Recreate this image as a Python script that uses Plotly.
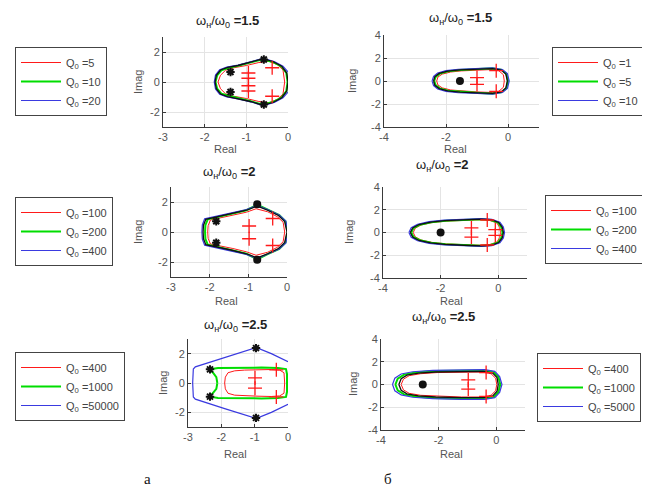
import plotly.graph_objects as go

# the page body adds an 8 px margin, so the figure is drawn 8 px in from the window corner
PAGE_OFF = 8
W, H = 650 - PAGE_OFF, 501 - PAGE_OFF

# ---------------- data ----------------
RATIOS = ["1.5", "1.5", "2", "2", "2.5", "2.5"]
Q_TL = ["5", "10", "20"]
Q_TR = ["1", "5", "10"]
Q_ML = ["100", "200", "400"]
Q_MR = ["100", "200", "400"]
Q_BL = ["400", "1000", "50000"]
Q_BR = ["400", "1000", "5000"]

TICKS_X_LEFT = [-3, -2, -1, 0]
TICKTEXT_X_LEFT = ["-3", "-2", "-1", "0"]
TICKS_Y_LEFT = [-2, 0, 2]
TICKTEXT_Y_LEFT = ["-2", "0", "2"]
TICKS_X_RIGHT = [-4, -2, 0]
TICKTEXT_X_RIGHT = ["-4", "-2", "0"]
TICKS_Y_RIGHT = [-4, -2, 0, 2, 4]
TICKTEXT_Y_RIGHT = ["-4", "-2", "0", "2", "4"]

# upper halves of loci (the lower half is the complex conjugate)
# --- top-left, wn/w0 = 1.5
TL_RED_X = [-1.68, -1.62, -1.5, -1.3, -1.0, -0.7, -0.45, -0.25, -0.12, -0.08]
TL_RED_Y = [0, 0.45, 0.78, 0.95, 1.1, 1.3, 1.38, 1.15, 0.8, 0]
TL_GRN_X = [-1.74, -1.7, -1.6, -1.42, -1.2, -0.9, -0.6, -0.35, -0.15, -0.04, -0.01]
TL_GRN_Y = [0, 0.45, 0.78, 0.95, 1.08, 1.28, 1.52, 1.32, 1.02, 0.6, 0]
TL_BLU_X = [-1.77, -1.74, -1.64, -1.47, -1.2, -0.9, -0.6, -0.33, -0.12, 0.02, 0.04]
TL_BLU_Y = [0, 0.46, 0.82, 1.0, 1.12, 1.32, 1.57, 1.37, 1.05, 0.62, 0]
TL_BLK_X = [-1.75, -1.72, -1.62, -1.45, -1.2, -0.9, -0.6, -0.35, -0.15, -0.03, 0.0]
TL_BLK_Y = [0, 0.45, 0.8, 0.98, 1.1, 1.3, 1.55, 1.35, 1.05, 0.6, 0]
TL_STAR_X = [-1.38, -1.38, -0.58, -0.58]
TL_STAR_Y = [0.67, -0.67, 1.5, -1.5]
TL_DOT_X = []
TL_DOT_Y = []
TL_PLUS_X = [-0.95, -0.95, -0.95, -0.95, -0.38, -0.38]
TL_PLUS_Y = [0.6, 0.25, -0.25, -0.6, 0.95, -0.95]

# --- top-right, wn/w0 = 1.5
TR_RED_X = [-2.3, -2.26, -2.12, -1.85, -1.5, -1.0, -0.5, -0.3, -0.15, -0.12]
TR_RED_Y = [0, 0.35, 0.6, 0.78, 0.88, 0.95, 1.0, 0.9, 0.55, 0]
TR_GRN_X = [-2.38, -2.33, -2.2, -1.93, -1.55, -1.0, -0.5, -0.2, -0.05, 0.0]
TR_GRN_Y = [0, 0.37, 0.64, 0.84, 0.95, 1.02, 1.1, 0.97, 0.62, 0]
TR_BLU_X = [-2.45, -2.4, -2.27, -2.0, -1.6, -1.0, -0.5, -0.18, -0.02, 0.04]
TR_BLU_Y = [0, 0.4, 0.7, 0.9, 1.02, 1.08, 1.14, 1.0, 0.64, 0]
TR_BLK_X = [-2.4, -2.36, -2.22, -1.95, -1.55, -1.0, -0.5, -0.22, -0.07, -0.02]
TR_BLK_Y = [0, 0.38, 0.66, 0.86, 0.97, 1.03, 1.08, 0.95, 0.6, 0]
TR_STAR_X = []
TR_STAR_Y = []
TR_DOT_X = [-1.55]
TR_DOT_Y = [0]
TR_PLUS_X = [-1.0, -1.0, -0.38, -0.38]
TR_PLUS_Y = [0.3, -0.3, 0.9, -0.9]

# --- middle-left, wn/w0 = 2
ML_RED_X = [-2.05, -2.04, -1.98, -1.75, -1.4, -1.05, -0.8, -0.5, -0.25, -0.1, -0.06]
ML_RED_Y = [0, 0.42, 0.8, 0.93, 1.1, 1.32, 1.55, 1.35, 1.02, 0.65, 0]
ML_GRN_X = [-2.12, -2.11, -2.05, -1.82, -1.45, -1.05, -0.77, -0.5, -0.2, -0.04, 0.02]
ML_GRN_Y = [0, 0.45, 0.84, 0.98, 1.18, 1.45, 1.82, 1.48, 1.12, 0.72, 0]
ML_BLU_X = [-2.2, -2.19, -2.13, -1.88, -1.48, -1.05, -0.77, -0.5, -0.2, -0.03, 0.03]
ML_BLU_Y = [0, 0.47, 0.88, 1.03, 1.23, 1.5, 1.78, 1.5, 1.13, 0.73, 0]
ML_BLK_X = [-2.17, -2.16, -2.1, -1.85, -1.45, -1.05, -0.77, -0.5, -0.22, -0.06, 0.0]
ML_BLK_Y = [0, 0.45, 0.85, 1.0, 1.2, 1.45, 1.72, 1.45, 1.1, 0.7, 0]
ML_STAR_X = [-1.83, -1.83]
ML_STAR_Y = [0.72, -0.72]
ML_DOT_X = [-0.77, -0.77]
ML_DOT_Y = [1.85, -1.85]
ML_PLUS_X = [-0.98, -0.98, -0.37, -0.37]
ML_PLUS_Y = [0.4, -0.45, 0.9, -0.9]

# --- middle-right, wn/w0 = 2
MR_RED_X = [-2.95, -2.88, -2.68, -2.3, -1.8, -1.2, -0.6, -0.3, -0.05, 0.05, 0.08]
MR_RED_Y = [0, 0.38, 0.66, 0.87, 1.0, 1.07, 1.12, 1.07, 0.85, 0.45, 0]
MR_GRN_X = [-3.02, -2.94, -2.72, -2.33, -1.83, -1.2, -0.6, -0.27, 0.0, 0.11, 0.15]
MR_GRN_Y = [0, 0.39, 0.69, 0.9, 1.03, 1.1, 1.16, 1.1, 0.87, 0.46, 0]
MR_BLU_X = [-3.1, -3.02, -2.8, -2.4, -1.88, -1.2, -0.6, -0.22, 0.06, 0.18, 0.22]
MR_BLU_Y = [0, 0.42, 0.73, 0.95, 1.08, 1.16, 1.22, 1.15, 0.9, 0.48, 0]
MR_BLK_X = [-3.05, -2.97, -2.75, -2.35, -1.85, -1.2, -0.6, -0.25, 0.02, 0.14, 0.18]
MR_BLK_Y = [0, 0.4, 0.7, 0.92, 1.05, 1.12, 1.18, 1.12, 0.88, 0.47, 0]
MR_STAR_X = []
MR_STAR_Y = []
MR_DOT_X = [-2.0]
MR_DOT_Y = [0]
MR_PLUS_X = [-0.93, -0.93, -0.38, -0.38, -0.1, -0.1]
MR_PLUS_Y = [0.4, -0.4, 1.1, -1.1, 0.25, -0.25]

# --- bottom-left, wn/w0 = 2.5 (blue branch is open on the right)
BL_RED_X = [-1.9, -1.88, -1.8, -1.6, -1.3, -0.9, -0.5, -0.25, -0.12, -0.1]
BL_RED_Y = [0, 0.4, 0.7, 0.83, 0.88, 0.9, 0.92, 0.88, 0.7, 0]
BL_GRN_X = [-2.12, -2.15, -2.25, -2.34, -2.1, -1.5, -0.8, -0.3, -0.06, -0.03, -0.03]
BL_GRN_Y = [0, 0.4, 0.7, 0.93, 1.02, 1.05, 1.05, 1.03, 0.95, 0.6, 0]
BL_BLU_X = [-2.86, -2.84, -2.78, -1.9, -0.96, -0.5, 0.0]
BL_BLU_Y = [0, 0.95, 1.1, 1.75, 2.42, 2.0, 1.45]
BL_BLK_X = []
BL_BLK_Y = []
BL_STAR_X = [-2.34, -2.34, -0.96, -0.96]
BL_STAR_Y = [0.93, -0.93, 2.38, -2.38]
BL_DOT_X = []
BL_DOT_Y = []
BL_PLUS_X = [-0.99, -0.99, -0.35, -0.35]
BL_PLUS_Y = [0.35, -0.35, 0.9, -0.95]

# --- bottom-right, wn/w0 = 2.5
BR_RED_X = [-3.3, -3.22, -3.02, -2.62, -2.05, -1.2, -0.5, -0.18, -0.02, 0.02]
BR_RED_Y = [0, 0.47, 0.78, 0.95, 1.05, 1.1, 1.1, 0.95, 0.55, 0]
BR_GRN_X = [-3.5, -3.42, -3.2, -2.8, -2.15, -1.2, -0.42, -0.08, 0.08, 0.14]
BR_GRN_Y = [0, 0.52, 0.87, 1.06, 1.18, 1.22, 1.22, 1.08, 0.65, 0]
BR_BLU_X = [-3.6, -3.52, -3.3, -2.9, -2.2, -1.2, -0.4, -0.05, 0.12, 0.2]
BR_BLU_Y = [0, 0.55, 0.92, 1.12, 1.25, 1.3, 1.3, 1.15, 0.7, 0]
BR_BLK_X = [-3.38, -3.3, -3.1, -2.7, -2.1, -1.2, -0.45, -0.12, 0.03, 0.07]
BR_BLK_Y = [0, 0.5, 0.82, 1.0, 1.1, 1.15, 1.15, 1.0, 0.6, 0]
BR_STAR_X = []
BR_STAR_Y = []
BR_DOT_X = [-2.55]
BR_DOT_Y = [0]
BR_PLUS_X = [-0.97, -0.97, -0.35, -0.35]
BR_PLUS_Y = [0.4, -0.4, 1.05, -1.05]


def closed(xu, yu):
    """close an upper-half locus with its conjugate mirror"""
    xs = list(xu) + list(reversed(xu))
    ys = list(yu) + [-v for v in reversed(yu)]
    return xs, ys


def open_branch(xu, yu):
    xs = list(reversed(xu)) + list(xu)
    ys = list(reversed(yu)) + [-v for v in yu]
    return xs, ys


# ---------------- layout geometry (window pixels) ----------------
def px_x(p):
    return (p - PAGE_OFF) / W


def px_y(p):
    return 1 - (p - PAGE_OFF) / H


panels = [
    dict(key="TL", q=Q_TL, ratio=RATIOS[0], xd=(163, 288), yd=(37, 127), xr=[-3, 0], yr=[-3, 3], side="L",
         title=(227, 21), real=(225, 149), imag=(138, 82), leg=(15, 47)),
    dict(key="TR", q=Q_TR, ratio=RATIOS[1], xd=(384, 539), yd=(35, 127), xr=[-4, 1], yr=[-4, 4], side="R",
         title=(460, 18), real=(455, 149), imag=(352, 81), leg=(552, 47)),
    dict(key="ML", q=Q_ML, ratio=RATIOS[2], xd=(171, 287), yd=(187, 277), xr=[-3, 0], yr=[-3, 3], side="L",
         title=(229, 172), real=(226, 301), imag=(138, 232), leg=(15, 197)),
    dict(key="MR", q=Q_MR, ratio=RATIOS[3], xd=(383, 527), yd=(187, 278), xr=[-4, 1], yr=[-4, 4], side="R",
         title=(442, 165), real=(451, 301), imag=(349, 232), leg=(545, 195)),
    dict(key="BL", q=Q_BL, ratio=RATIOS[4], xd=(188, 288), yd=(339, 427), xr=[-3, 0], yr=[-3, 3], side="L",
         title=(235, 325), real=(235, 454), imag=(163, 383), leg=(15, 352)),
    dict(key="BR", q=Q_BR, ratio=RATIOS[5], xd=(381, 525), yd=(339, 430), xr=[-4, 1], yr=[-4, 4], side="R",
         title=(443, 317), real=(451, 454), imag=(353, 384), leg=(537, 353)),
]

DATA = {
    "TL": (TL_RED_X, TL_RED_Y, TL_GRN_X, TL_GRN_Y, TL_BLU_X, TL_BLU_Y, TL_BLK_X, TL_BLK_Y,
           TL_STAR_X, TL_STAR_Y, TL_DOT_X, TL_DOT_Y, TL_PLUS_X, TL_PLUS_Y),
    "TR": (TR_RED_X, TR_RED_Y, TR_GRN_X, TR_GRN_Y, TR_BLU_X, TR_BLU_Y, TR_BLK_X, TR_BLK_Y,
           TR_STAR_X, TR_STAR_Y, TR_DOT_X, TR_DOT_Y, TR_PLUS_X, TR_PLUS_Y),
    "ML": (ML_RED_X, ML_RED_Y, ML_GRN_X, ML_GRN_Y, ML_BLU_X, ML_BLU_Y, ML_BLK_X, ML_BLK_Y,
           ML_STAR_X, ML_STAR_Y, ML_DOT_X, ML_DOT_Y, ML_PLUS_X, ML_PLUS_Y),
    "MR": (MR_RED_X, MR_RED_Y, MR_GRN_X, MR_GRN_Y, MR_BLU_X, MR_BLU_Y, MR_BLK_X, MR_BLK_Y,
           MR_STAR_X, MR_STAR_Y, MR_DOT_X, MR_DOT_Y, MR_PLUS_X, MR_PLUS_Y),
    "BL": (BL_RED_X, BL_RED_Y, BL_GRN_X, BL_GRN_Y, BL_BLU_X, BL_BLU_Y, BL_BLK_X, BL_BLK_Y,
           BL_STAR_X, BL_STAR_Y, BL_DOT_X, BL_DOT_Y, BL_PLUS_X, BL_PLUS_Y),
    "BR": (BR_RED_X, BR_RED_Y, BR_GRN_X, BR_GRN_Y, BR_BLU_X, BR_BLU_Y, BR_BLK_X, BR_BLK_Y,
           BR_STAR_X, BR_STAR_Y, BR_DOT_X, BR_DOT_Y, BR_PLUS_X, BR_PLUS_Y),
}

RED, GREEN, BLUE, BLACK = "#ff1a1a", "#00dd00", "#3a3ae0", "#111111"

fig = go.Figure()
layout = dict(width=W, height=H, margin=dict(l=0, r=0, t=0, b=0, autoexpand=False),
              paper_bgcolor="white", plot_bgcolor="white", showlegend=True,
              font=dict(family="Liberation Sans, Arial, sans-serif", color="#333"))
annotations = []

for i, p in enumerate(panels):
    n = i + 1
    sfx = "" if n == 1 else str(n)
    xa, ya = "x" + sfx, "y" + sfx
    leg = "legend" + sfx
    (rx, ry, gx, gy, bx, by, kx, ky, sx, sy, dx, dy, px_, py_) = DATA[p["key"]]

    def add_line(xu, yu, color, width, name, show, is_open=False):
        if not xu:
            return
        xs, ys = (open_branch if is_open else closed)(xu, yu)
        fig.add_trace(go.Scatter(x=xs, y=ys, mode="lines", name=name, showlegend=show,
                                 line=dict(color=color, width=width), xaxis=xa, yaxis=ya,
                                 legend=leg, hoverinfo="skip"))

    q = p["q"]
    add_line(rx, ry, RED, 1, "Q<sub>0</sub> =" + q[0], True)
    add_line(gx, gy, GREEN, 2, "Q<sub>0</sub> =" + q[1], True)
    add_line(bx, by, BLUE, 1.2, "Q<sub>0</sub> =" + q[2], True, is_open=(p["key"] == "BL"))
    add_line(kx, ky, BLACK, 1.3, "locus", False)

    if sx:
        fig.add_trace(go.Scatter(x=sx, y=sy, mode="markers", showlegend=False, xaxis=xa, yaxis=ya,
                                 marker=dict(symbol="asterisk-open", size=7, color=BLACK,
                                             line=dict(color=BLACK, width=2)), hoverinfo="skip"))
    if dx:
        fig.add_trace(go.Scatter(x=dx, y=dy, mode="markers", showlegend=False, xaxis=xa, yaxis=ya,
                                 marker=dict(symbol="circle", size=8, color=BLACK), hoverinfo="skip"))
    if px_:
        fig.add_trace(go.Scatter(x=px_, y=py_, mode="markers", showlegend=False, xaxis=xa, yaxis=ya,
                                 marker=dict(symbol="cross-thin-open", size=10, color=RED,
                                             line=dict(color=RED, width=1.3)), hoverinfo="skip"))

    left = p["side"] == "L"
    layout["xaxis" + sfx] = dict(
        domain=[px_x(p["xd"][0]), px_x(p["xd"][1])], range=p["xr"], anchor=ya,
        tickvals=TICKS_X_LEFT if left else TICKS_X_RIGHT,
        ticktext=TICKTEXT_X_LEFT if left else TICKTEXT_X_RIGHT,
        showgrid=True, gridcolor="#e4e4e4", gridwidth=1, zeroline=False,
        showline=True, linecolor="#3a3a3a", linewidth=1, ticks="inside", ticklen=3,
        tickcolor="#3a3a3a", tickfont=dict(size=11, color="#555"), fixedrange=True)
    layout["yaxis" + sfx] = dict(
        domain=[px_y(p["yd"][1]), px_y(p["yd"][0])], range=p["yr"], anchor=xa,
        tickvals=TICKS_Y_LEFT if left else TICKS_Y_RIGHT,
        ticktext=TICKTEXT_Y_LEFT if left else TICKTEXT_Y_RIGHT,
        showgrid=True, gridcolor="#e4e4e4", gridwidth=1, zeroline=False,
        showline=True, linecolor="#3a3a3a", linewidth=1, ticks="inside", ticklen=3,
        tickcolor="#3a3a3a", tickfont=dict(size=11, color="#555"), fixedrange=True)
    layout[leg] = dict(x=px_x(p["leg"][0]), y=px_y(p["leg"][1]), xanchor="left", yanchor="top",
                       bgcolor="white", bordercolor="#444", borderwidth=1, itemwidth=40,
                       font=dict(size=11, color="#444"), itemclick=False, itemdoubleclick=False,
                       tracegroupgap=0)

    annotations.append(dict(x=px_x(p["title"][0]), y=px_y(p["title"][1]), xref="paper", yref="paper",
                            text="ω<sub>н</sub>/ω<sub>0</sub> <b>=" + p["ratio"] + "</b>",
                            showarrow=False, font=dict(size=13, color="#222"),
                            xanchor="center", yanchor="middle"))
    annotations.append(dict(x=px_x(p["real"][0]), y=px_y(p["real"][1]), xref="paper", yref="paper",
                            text="Real", showarrow=False, font=dict(size=11, color="#555"),
                            xanchor="center", yanchor="middle"))
    annotations.append(dict(x=px_x(p["imag"][0]), y=px_y(p["imag"][1]), xref="paper", yref="paper",
                            text="Imag", showarrow=False, textangle=-90, font=dict(size=11, color="#555"),
                            xanchor="center", yanchor="middle"))

annotations.append(dict(x=px_x(142), y=px_y(489), xref="paper", yref="paper", text="а", showarrow=False,
                        font=dict(size=15, color="#111", family="Liberation Serif, Times New Roman, serif")))
annotations.append(dict(x=px_x(388), y=px_y(489), xref="paper", yref="paper", text="б", showarrow=False,
                        font=dict(size=15, color="#111", family="Liberation Serif, Times New Roman, serif")))

layout["annotations"] = annotations
fig.update_layout(**layout)
fig.write_html("out.html")
